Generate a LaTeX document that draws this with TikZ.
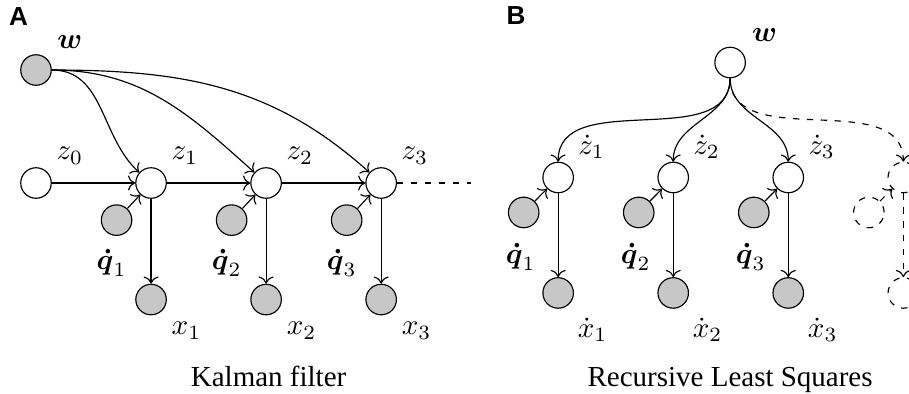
\documentclass[tikz,border=0pt]{standalone}
\usepackage{amsmath,amssymb}
\usepackage{fontspec}
\newfontfamily\capfont{Liberation Serif}
\newfontfamily\panelfont{Liberation Sans}
\usepackage{tikz}
\usetikzlibrary{arrows.meta, positioning}

\begin{document}
\begin{tikzpicture}[
    node distance=1.395cm, on grid,
    latent/.style={circle, draw, thin, fill=white, inner sep=0pt, minimum size=0.37cm},
    observed/.style={latent, fill=black!22},
    ghost/.style={latent, fill=none, dash pattern=on 2.2pt off 2.6pt},
    varlabel/.style={inner sep=0pt},
    caption/.style={font=\capfont, anchor=base, inner sep=0pt},
    panel/.style={font=\panelfont\bfseries\fontsize{9}{10}\selectfont, inner sep=0pt},
    edge/.style={->, thin},
    dashedge/.style={edge, dash pattern=on 2.2pt off 2.6pt}
]
    \path[use as bounding box, clip] (-0.4365,-2.558) rectangle (10.585,2.219);

    % (A) Kalman filter: chain of states driven by w
    \node[latent] (z0) at (0,0) {};
    \node[observed, above=1.37cm of z0] (w) {};
    \node[latent, right=of z0] (z1) {};
    \node[latent, right=of z1] (z2) {};
    \node[latent, right=of z2] (z3) {};
    \coordinate[right=1.085cm of z3] (zend);
    \foreach \i in {1,2,3} {
        \node[observed, below left=0.45cm and 0.418cm of z\i] (q\i) {};
        \node[observed, below=1.413cm of z\i] (x\i) {};
    }

    \node[panel, above left=0.643cm and 0.212cm of w] (pa) {A};
    \node[varlabel, above right=0.34cm and 0.41cm of w] (wlab) {$\boldsymbol{w}$};
    \foreach \i in {0,...,3}
        \node[varlabel, above right=0.33cm and 0.41cm of z\i] (zlab\i) {$z_\i$};
    \foreach \i in {1,2,3} {
        \node[varlabel, below left=0.52cm and 0.06cm of q\i] (qlab\i) {$\boldsymbol{\dot{q}}_\i$};
        \node[varlabel, below right=0.38cm and 0.43cm of x\i] (xlab\i) {$x_\i$};
    }

    \foreach \i in {1,2,3} {
        \draw[edge] (w) to[out=0, in=138] (z\i);
        \draw[edge] (q\i) -- (z\i);
        \draw[edge] (z\i) -- (x\i);
    }
    \draw[edge] (z0) -- (z1);
    \draw[edge] (z1) -- (z2);
    \draw[edge] (z2) -- (z3);
    \draw[dash pattern=on 2.2pt off 2.6pt] (z3) -- (zend);

    \node[below=1.057cm of x2, xshift=0.03cm, caption] (capA) {Kalman filter};

    % (B) recursive least squares: w feeds every step
    \node[latent, above right=0.067cm and 2.146cm of z3] (zb1) {};
    \node[latent, right=of zb1] (zb2) {};
    \node[latent, right=of zb2] (zb3) {};
    \node[ghost, right=of zb3] (zb4) {};
    \node[latent, above right=1.394cm and 0.69cm of zb2] (wb) {};
    \foreach \i in {1,2,3} {
        \node[observed, below left=0.424cm and 0.418cm of zb\i] (qb\i) {};
        \node[observed, below=1.40cm of zb\i] (xb\i) {};
    }
    \node[ghost, below left=0.424cm and 0.418cm of zb4] (qb4) {};
    \node[ghost, below=1.40cm of zb4] (xb4) {};

    \node[panel, above left=0.57cm and 2.595cm of wb] (pb) {B};
    \node[varlabel, above right=0.333cm and 0.418cm of wb] (wblab) {$\boldsymbol{w}$};
    \foreach \i in {1,2,3} {
        \node[varlabel, above right=0.37cm and 0.406cm of zb\i] (zblab\i) {$\dot{z}_\i$};
        \node[varlabel, below left=0.54cm and 0.036cm of qb\i] (qblab\i) {$\boldsymbol{\dot{q}}_\i$};
        \node[varlabel, below right=0.449cm and 0.418cm of xb\i] (xblab\i) {$\dot{x}_\i$};
    }

    \foreach \i in {1,2,3} {
        \draw[edge] (wb) to[out=-90, in=90] (zb\i);
        \draw[edge] (qb\i) -- (zb\i);
        \draw[edge] (zb\i) -- (xb\i);
    }
    \draw[dashedge] (wb) to[out=-90, in=90] (zb4);
    \draw[dashedge] (qb4) -- (zb4);
    \draw[dashedge] (zb4) -- (xb4);

    \node[caption] (capB) at (wb |- capA.base) {Recursive Least Squares};
\end{tikzpicture}
\end{document}
